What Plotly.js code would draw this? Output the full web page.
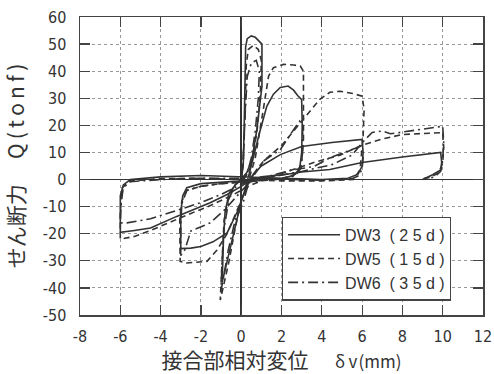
<!DOCTYPE html>
<html>
<head>
<meta charset="utf-8">
<script src="https://cdn.plot.ly/plotly-3.0.1.min.js"></script>
<style>html,body{margin:0;padding:0;background:#fff;}#chart{width:494px;height:374px;}</style>
</head>
<body>
<div id="chart"></div>
<script>
// Series names
var seriesNames = ["DW3  ( 2 5 d )", "DW5  ( 1 5 d )", "DW6  ( 3 5 d )"];

// DW3 (solid) — displacement δv (mm) and shear Q (tonf)
var dw3X = [0, 0.1, 0.15, 0.18, 0.22, 0.3, 0.5, 0.7, 0.9, 1.03, 1.03, 0.9, 0.78, 0.53, 0.28, 0.1, 0,
  -0.3, -0.6, -0.8, -0.88, -0.92, -0.95, -0.85, -0.6, -0.3, 0, 0.2,
  0.4, 0.6, 0.9, 1.27, 1.6, 1.94, 2.33, 2.6, 2.8, 3.0, 3.03, 3.0, 2.9, 2.6, 2.0, 1.0, 0, -1, -2, -2.7, -2.9, -3.0, -3.0, -3.0,
  -2.5, -2.0, -1.4, -0.7, -0.2, 0.2,
  0.5, 1.0, 1.94, 3.0, 4.5, 6.0, 6.05, 6.0, 5.8, 5.3, 4.0, 2.0, 0, -2.0, -4.0, -5.5, -5.85, -6.0, -6.0, -6.0,
  -5.3, -4.5, -3.2, -2.3, -1.54, -0.7, 0, 0.5,
  1.0, 2.1, 3.0, 4.4, 6.0, 8.0, 9.9, 9.95, 9.9, 9.5, 9.0];
var dw3Y = [0, 5, 20, 40, 49, 52, 53, 52.5, 51, 50, 34.5, 26, 18.5, 7.4, 2.6, 1, 0,
  -2, -5, -12, -22, -32, -38, -35, -27, -17, -8, -3.5,
  2, 8, 17, 27, 31.5, 34, 34.5, 33, 31, 29.5, 20, 10, 4, 1.5, 0.5, 0, -0.5, -1, -1.5, -3, -6, -12, -20, -25.5,
  -25.3, -24.7, -23, -19.7, -12, -4,
  1, 5, 9.2, 12.2, 13.7, 14.8, 10, 5, 2, 0.5, 0, 0.5, 1.2, 1.5, 1, 0, -2, -6, -13, -19.5,
  -18.8, -17.9, -13.6, -11, -8.6, -5.5, -2.5, 0,
  1, 1.8, 2.8, 3.7, 6.3, 8.3, 10, 6.3, 3.5, 1.8, 0];

// DW5 (dashed)
var dw5X = [0, 0.1, 0.2, 0.25, 0.35, 0.6, 0.85, 1.0, 0.95, 0.8, 0.6, 0.4, 0.2, 0,
  -0.3, -0.6, -0.85, -0.95, -1.02, -1.04, -0.9, -0.6, -0.3, 0, 0.3,
  0.7, 1.1, 1.36, 1.6, 2.1, 2.6, 2.93, 3.09, 3.09, 3.09, 3.0, 2.7, 2.0, 1.0, 0, -1.0, -2.0, -2.7, -2.95, -3.05, -3.05, -3.03,
  -2.7, -1.7, -1.2, -0.7, -0.3, 0.1, 0.5,
  1.1, 2.0, 3.0, 3.9, 4.4, 4.9, 5.57, 6.0, 6.1, 6.05, 5.9, 5.57, 4.0, 2.0, 0, -2.0, -4.0, -5.5, -5.9, -6.0, -6.0,
  -5.3, -4.5, -3.5, -2.5, -1.5, -0.5, 0.5,
  1.5, 2.5, 3.6, 4.9, 6.0, 7.0, 8.0, 9.0, 10.0, 10.05, 10.0, 9.8, 9.4, 9.0];
var dw5Y = [0, 6, 25, 42, 48, 49.5, 48, 44, 32, 19, 9, 3, 1, 0,
  -2, -6, -15, -28, -38, -44.5, -40, -30, -18, -8, -2,
  8, 26, 38.2, 41.3, 42.5, 42.3, 41.9, 40, 29.6, 15, 6, 2, 0.2, -0.5, -1, -1.5, -2.5, -4, -8, -15, -25, -30.2,
  -30.8, -30.2, -26, -20, -13, -6, 0,
  6.8, 12.5, 21.6, 29.6, 32.2, 32.6, 31.7, 30.8, 25.9, 16, 3.7, 0, -0.5, -0.5, 0, 0.5, 0.3, -0.5, -3, -12, -22,
  -21, -18.8, -15.5, -12.5, -9.5, -6, -2,
  1, 3.5, 6.3, 9, 12.7, 15, 16.6, 17, 17.3, 12, 6, 2.5, 0.8, 0.3];

// DW6 (dash-dot)
var dw6X = [0, 0.1, 0.2, 0.3, 0.5, 0.75, 0.9, 0.85, 0.7, 0.5, 0.3, 0,
  -0.3, -0.6, -0.85, -0.95, -1.0, -0.9, -0.64, -0.3, 0.1, 0.3,
  0.6, 1.1, 1.94, 2.5, 2.9, 3.05, 3.05, 2.95, 2.7, 2.2, 1.0, 0, -1.0, -2.0, -2.7, -2.95, -3.0, -3.0,
  -2.8, -2.5, -1.54, -0.8, -0.2, 0.4,
  1.5, 2.5, 3.6, 4.4, 5.1, 5.9, 6.05, 6.0, 5.85, 5.5, 4.0, 2.0, 0, -2.0, -4.0, -5.5, -5.85, -5.95, -6.0,
  -5.67, -4.5, -3.03, -2.0, -1.0, 0, 0.5,
  1.5, 3.0, 4.5, 5.5, 6.05, 6.5, 7.0, 7.4, 7.8, 8.5, 9.3, 10.0, 10.05, 10.0, 9.9, 9.6, 9.2];
var dw6Y = [0, 8, 25, 38, 43, 44, 40, 30, 18, 8, 2, 0,
  -2, -7, -18, -30, -41, -37, -26, -15, -8.5, -3,
  2, 6.8, 11, 17.3, 21.6, 20, 10, 4, 1.5, 0.3, -0.3, -0.8, -1.5, -2.5, -4, -9, -18, -28,
  -26, -19, -16, -11, -6, -1,
  1.5, 3.5, 4.8, 8, 10, 12.2, 8, 4, 1.5, 0.3, -0.3, 0, 0.5, 0.5, 0, -0.8, -3, -8, -16,
  -16, -14.5, -11, -8.5, -5.5, -2, 0,
  1, 3, 5.5, 9, 14, 17.4, 17.9, 16.9, 17.3, 18, 18.8, 19.7, 14, 7, 3, 1, 0.2];

// Axis ticks
var xTicks = [-8, -6, -4, -2, 0, 2, 4, 6, 8, 10, 12];
var yTicks = [-50, -40, -30, -20, -10, 0, 10, 20, 30, 40, 50, 60];
var xTitle = "接合部相対変位\u2003\u2009\u200a<span style=\"font-size:17px\">δ\u2009v\u200a(mm)</span>";
var yTitle = "せん断力\u2003\u2009Q\u2009(\u2009t\u2009o\u2009n\u2009f\u2009)";

var lineColor = "#333";
var traces = [
  {x: dw3X, y: dw3Y, name: seriesNames[0], mode: "lines", line: {color: lineColor, width: 1.6, dash: "solid"}},
  {x: dw5X, y: dw5Y, name: seriesNames[1], mode: "lines", line: {color: lineColor, width: 1.6, dash: "6px,4px"}},
  {x: dw6X, y: dw6Y, name: seriesNames[2], mode: "lines", line: {color: lineColor, width: 1.6, dash: "10px,4px,2px,4px"}}
];

var tickFont = {family: "'DejaVu Sans Condensed', 'Liberation Sans Narrow', 'DejaVu Sans'", size: 16, color: "#333"};
var axisCommon = {
  showline: true, linecolor: "#444", linewidth: 1.5, mirror: "ticks",
  ticks: "inside", ticklen: 10, tickcolor: "#444", tickwidth: 1.2,
  showgrid: true, gridcolor: "#999", griddash: "dot", gridwidth: 1,
  zeroline: true, zerolinecolor: "#333", zerolinewidth: 1.5,
  tickfont: tickFont, fixedrange: true
};

var layout = {
  width: 494, height: 374,
  margin: {l: 80, r: 11, t: 17, b: 59},
  paper_bgcolor: "#fff", plot_bgcolor: "#fff",
  showlegend: true,
  xaxis: Object.assign({}, axisCommon, {
    range: [-8, 12], tickmode: "array", tickvals: xTicks, ticktext: xTicks.map(String),
    ticklabelstandoff: 6,
    title: {text: xTitle, font: {family: "Noto Sans CJK JP", size: 21, color: "#333"}, standoff: 10}
  }),
  yaxis: Object.assign({}, axisCommon, {
    range: [-50, 60], tickmode: "array", tickvals: yTicks, ticktext: yTicks.map(String),
    ticklabelstandoff: 9,
    title: {text: yTitle, font: {family: "Noto Sans CJK JP", size: 21, color: "#333"}, standoff: 12}
  }),
  legend: {
    x: 0.501, y: 0.33, xanchor: "left", yanchor: "top",
    bgcolor: "#fff", bordercolor: "#444", borderwidth: 1.2,
    font: {family: "'Liberation Sans', 'DejaVu Sans'", size: 16, color: "#333"},
    itemwidth: 52, tracegroupgap: 0
  }
};

Plotly.newPlot("chart", traces, layout, {displayModeBar: false, staticPlot: true});
</script>
</body>
</html>
